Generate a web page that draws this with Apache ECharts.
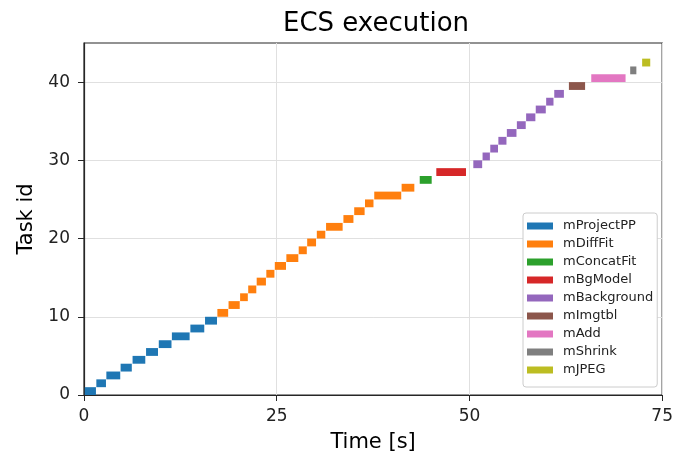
<!DOCTYPE html>
<html>
<head>
<meta charset="utf-8">
<script src="https://cdn.jsdelivr.net/npm/echarts@6/dist/echarts.min.js"></script>
<style>
  html, body { margin: 0; padding: 0; background: #fff; }
  #chart { width: 676px; height: 458px; }
</style>
</head>
<body>
<div id="chart"></div>
<script>
// task types (legend order) and their matplotlib tab10 colours
const taskTypes = ['mProjectPP', 'mDiffFit', 'mConcatFit', 'mBgModel', 'mBackground',
  'mImgtbl', 'mAdd', 'mShrink', 'mJPEG']
const typeColors = ['#1f77b4', '#ff7f0e', '#2ca02c', '#d62728', '#9467bd',
  '#8c564b', '#e377c2', '#7f7f7f', '#bcbd22']

// one entry per task id (0..42)
const taskType = [
  0, 0, 0, 0, 0, 0, 0, 0, 0, 0,
  1, 1, 1, 1, 1, 1, 1, 1, 1, 1, 1, 1, 1, 1, 1, 1, 1,
  2, 3,
  4, 4, 4, 4, 4, 4, 4, 4, 4, 4,
  5, 6, 7, 8
]
const taskStart = [
  0.1, 1.6, 2.9, 4.75, 6.3, 8.05, 9.7, 11.4, 13.8, 15.7,
  17.3, 18.75, 20.25, 21.3, 22.4, 23.65, 24.75, 26.25, 27.85, 28.95, 30.2, 31.4, 33.65, 35.05, 36.45, 37.65, 41.2,
  43.55, 45.7,
  50.5, 51.7, 52.7, 53.75, 54.85, 56.15, 57.35, 58.6, 59.95, 61.0,
  62.9, 65.8, 70.85, 72.4
]
const taskEnd = [
  1.55, 2.85, 4.7, 6.2, 7.95, 9.6, 11.35, 13.7, 15.6, 17.25,
  18.7, 20.2, 21.25, 22.35, 23.6, 24.7, 26.2, 27.8, 28.9, 30.1, 31.3, 33.55, 34.95, 36.4, 37.55, 41.15, 42.85,
  45.1, 49.55,
  51.65, 52.65, 53.7, 54.8, 56.1, 57.3, 58.55, 59.9, 60.9, 62.25,
  65.0, 70.25, 71.65, 73.45
]

const xTicks = [0, 25, 50, 75]
const yTicks = [0, 10, 20, 30, 40]

const FONT = 'DejaVu Sans'
const INK = '#262626'

const chart = echarts.init(document.getElementById('chart'))

function renderBar (params, api) {
  const lo = api.coord([api.value(0), api.value(2)])
  const hi = api.coord([api.value(1), api.value(2) + 1])
  return {
    type: 'rect',
    shape: { x: lo[0], y: hi[1], width: hi[0] - lo[0], height: lo[1] - hi[1] },
    style: { fill: api.visual('color') }
  }
}

const series = taskTypes.map((name, t) => {
  const data = []
  taskType.forEach((tt, id) => {
    if (tt === t) data.push([taskStart[id], taskEnd[id], id])
  })
  return {
    name: name,
    type: 'custom',
    renderItem: renderBar,
    itemStyle: { color: typeColors[t] },
    encode: { x: [0, 1], y: 2 },
    data: data
  }
})

const options = {
  backgroundColor: '#fff',
  animation: false,
  color: typeColors,
  title: {
    text: 'ECS execution',
    left: 371,
    textAlign: 'center',
    top: 6,
    textStyle: { fontFamily: FONT, fontSize: 26, fontWeight: 'normal', color: '#000' }
  },
  grid: {
    left: 84,
    right: 13,
    top: 43,
    bottom: 63,
    show: true,
    borderColor: INK,
    borderWidth: 1.2,
    backgroundColor: '#fff'
  },
  legend: {
    orient: 'vertical',
    left: 523,
    top: 213,
    icon: 'rect',
    itemWidth: 26,
    itemHeight: 7,
    itemGap: 4,
    padding: [6, 4, 10, 4],
    backgroundColor: '#fff',
    borderColor: '#cccccc',
    borderWidth: 1,
    borderRadius: 3,
    textStyle: { fontFamily: FONT, fontSize: 13, color: '#222', lineHeight: 14, padding: [0, 0, 0, 5] },
    data: taskTypes
  },
  xAxis: {
    type: 'value',
    min: 0,
    max: 75,
    interval: 25,
    name: 'Time [s]',
    nameLocation: 'middle',
    nameGap: 37,
    nameTextStyle: { fontFamily: FONT, fontSize: 21, color: '#000' },
    axisLine: { show: true, lineStyle: { color: INK, width: 1.2 } },
    axisTick: { show: true, length: 6, lineStyle: { color: INK }, customValues: xTicks },
    axisLabel: { fontFamily: FONT, fontSize: 17, color: '#222', margin: 13, customValues: xTicks },
    splitLine: { show: true, lineStyle: { color: '#e0e0e0', width: 1 } }
  },
  yAxis: {
    type: 'value',
    min: 0,
    max: 45,
    interval: 10,
    name: 'Task id',
    nameLocation: 'middle',
    nameGap: 47,
    nameTextStyle: { fontFamily: FONT, fontSize: 21, color: '#000' },
    axisLine: { show: true, lineStyle: { color: INK, width: 1.2 } },
    axisTick: { show: true, length: 6, lineStyle: { color: INK }, customValues: yTicks },
    axisLabel: { fontFamily: FONT, fontSize: 17, color: '#222', margin: 14, customValues: yTicks },
    splitLine: { show: true, lineStyle: { color: '#e0e0e0', width: 1 } }
  },
  series: series
}

chart.setOption(options, true)
</script>
</body>
</html>
